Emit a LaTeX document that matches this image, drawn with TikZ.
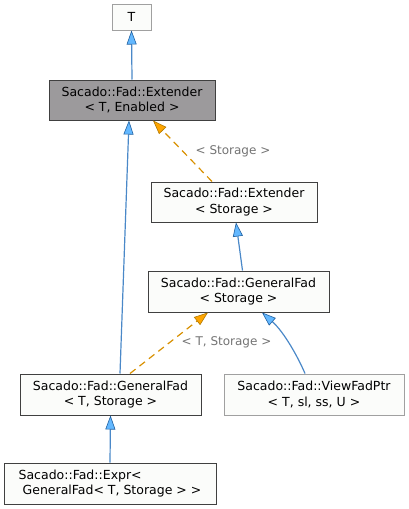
\documentclass[tikz,border=0pt]{standalone}
\usepackage{fontspec}
\setmainfont{DejaVu Sans}
\usetikzlibrary{arrows.meta}
\definecolor{boxfill}{HTML}{FBFCFA}
\definecolor{boxline}{HTML}{404040}
\definecolor{boxgrey}{HTML}{A0A0A0}
\definecolor{hilite}{HTML}{9C9A9C}
\definecolor{edgeblue}{HTML}{4A88C8}
\definecolor{tipblue}{HTML}{63B8FF}
\definecolor{tipblueline}{HTML}{2060A0}
\definecolor{edgeorange}{HTML}{D89000}
\definecolor{tiporange}{HTML}{FFA500}
\definecolor{tiporangeline}{HTML}{B07800}
\tikzset{cls/.style={draw=boxline,fill=boxfill,line width=1pt,inner sep=0pt,
  minimum height=40pt,align=center,font=\fontsize{12.5}{15.5}\selectfont},
 undoc/.style={cls,draw=boxgrey},
 current/.style={cls,fill=hilite},
 inherit/.style={draw=edgeblue,line width=1.2pt,
  -{Triangle[length=14pt,width=10pt,color=tipblueline,fill=tipblue,line width=0.6pt]}},
 templ/.style={draw=edgeorange,line width=1.2pt,dash pattern=on 7pt off 5pt,
  -{Triangle[length=14pt,width=10pt,color=tiporangeline,fill=tiporange,line width=0.6pt]}},
 tlabel/.style={text=gray!90!black,font=\fontsize{12}{14}\selectfont},
 }

\begin{document}
\begin{tikzpicture}[x=1pt,y=-1pt]
\useasboundingbox (0,0) rectangle (409,509);
\node[undoc,minimum width=39pt,minimum height=26pt] (T) at (131.5,17) {T};
\node[current,minimum width=166pt] (extTE) at (132,100) {Sacado::Fad::Extender\\< T, Enabled >};
\node[cls,minimum width=166pt] (extS) at (234,202) {Sacado::Fad::Extender\\< Storage >};
\node[cls,minimum width=181pt,minimum height=41pt] (genS) at (238.5,291.5) {Sacado::Fad::GeneralFad\\< Storage >};
\node[cls,minimum width=181pt,minimum height=41pt] (genTS) at (110.5,394.5) {Sacado::Fad::GeneralFad\\< T, Storage >};
\node[undoc,minimum width=180pt,minimum height=41pt] (view) at (314,394.5) {Sacado::Fad::ViewFadPtr\\< T, sl, ss, U >};
\node[cls,minimum width=212pt,minimum height=41pt,align=left] (expr) at (110,483.5) {Sacado::Fad::Expr<\\\hspace*{4pt}GeneralFad< T, Storage > >};
\draw[inherit] (extTE.north) -- (T.south);
\draw[inherit] ([xshift=9.5pt]genTS.north) -- ([xshift=-3pt]extTE.south);
\draw[templ] ([xshift=-22pt]extS.north) -- ([xshift=21pt]extTE.south);
\node[tlabel] (lblS) at (233,151) {< Storage >};
\draw[inherit] ([xshift=4pt]genS.north) -- ([xshift=2pt]extS.south);
\draw[templ] ([xshift=19.5pt]genTS.north) -- ([xshift=-30.5pt]genS.south);
\node[tlabel] (lblTS) at (226.5,342) {< T, Storage >};
\draw[inherit] ([xshift=-9pt]view.north) .. controls (298,357) and (284,332) .. ([xshift=23.5pt]genS.south);
\draw[inherit] (expr.north) -- (genTS.south);
\end{tikzpicture}
\end{document}
